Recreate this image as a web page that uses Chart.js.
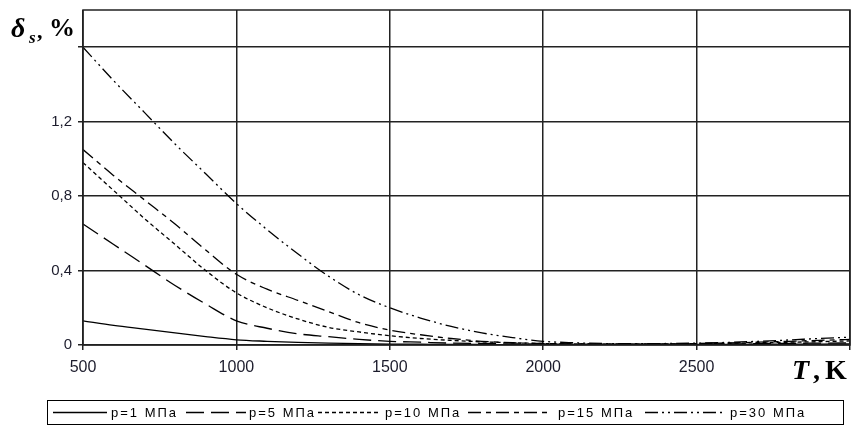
<!DOCTYPE html>
<html>
<head>
<meta charset="utf-8">
<script src="https://cdn.jsdelivr.net/npm/chart.js@4/dist/chart.umd.min.js"></script>
<style>
  html, body { margin: 0; padding: 0; background: #fff; }
  #wrap { width: 852px; height: 430px; position: relative; }
</style>
</head>
<body>
<div id="wrap"><canvas id="c" width="852" height="430"></canvas></div>
<script>
// Temperature, K
const temperatures = [500, 600, 700, 800, 900, 1000, 1100, 1200, 1300, 1400, 1500,
  1600, 1700, 1800, 1900, 2000, 2100, 2200, 2300, 2400, 2500, 2600, 2700, 2800, 2900, 3000];

// delta_s, % for each pressure
const p1 = [0.13, 0.105, 0.085, 0.065, 0.045, 0.028, 0.02, 0.014, 0.01, 0.007, 0.005,
  0.004, 0.003, 0.003, 0.002, 0.002, 0.002, 0.002, 0.002, 0.002, 0.003, 0.003, 0.004, 0.005, 0.005, 0.006];
const p5 = [0.65, 0.54, 0.43, 0.32, 0.22, 0.13, 0.09, 0.06, 0.045, 0.03, 0.02,
  0.015, 0.01, 0.008, 0.006, 0.005, 0.004, 0.004, 0.004, 0.004, 0.005, 0.006, 0.007, 0.009, 0.01, 0.012];
const p10 = [0.98, 0.83, 0.68, 0.54, 0.40, 0.28, 0.20, 0.14, 0.095, 0.07, 0.05,
  0.035, 0.025, 0.017, 0.012, 0.008, 0.006, 0.005, 0.005, 0.006, 0.007, 0.009, 0.012, 0.015, 0.018, 0.022];
const p15 = [1.05, 0.91, 0.78, 0.65, 0.51, 0.38, 0.30, 0.24, 0.18, 0.12, 0.08,
  0.055, 0.035, 0.02, 0.012, 0.008, 0.006, 0.005, 0.005, 0.006, 0.008, 0.011, 0.015, 0.02, 0.025, 0.03];
const p30 = [1.60, 1.42, 1.25, 1.08, 0.92, 0.76, 0.62, 0.49, 0.37, 0.27, 0.20,
  0.145, 0.10, 0.065, 0.04, 0.02, 0.012, 0.008, 0.007, 0.008, 0.01, 0.014, 0.02, 0.027, 0.035, 0.042];

const seriesLabels = ['p=1 МПа', 'p=5 МПа', 'p=10 МПа', 'p=15 МПа', 'p=30 МПа'];
const xTickValues = [500, 1000, 1500, 2000, 2500, 3000];
const yTickValues = [0, 0.4, 0.8, 1.2, 1.6];

const dashes = [[], [18, 7], [4, 3], [13, 5, 5, 5], [13, 4, 2, 4, 2, 4]];
const allSeries = [p1, p5, p10, p15, p30];

const datasets = allSeries.map((vals, i) => ({
  label: seriesLabels[i],
  data: temperatures.map((t, k) => ({ x: t, y: vals[k] })),
  borderColor: '#000',
  borderWidth: 1.3,
  borderDash: dashes[i],
  pointRadius: 0,
  fill: false,
  cubicInterpolationMode: 'monotone'
}));

// frame, axis titles and the boxed legend below the plot
const decorations = {
  id: 'decorations',
  afterDraw(chart) {
    const ctx = chart.ctx;
    const a = chart.chartArea;
    ctx.save();
    ctx.strokeStyle = '#222';
    ctx.lineWidth = 1.5;
    ctx.strokeRect(a.left, a.top, a.right - a.left, a.bottom - a.top);

    // y title: δs,%
    ctx.fillStyle = '#000';
    ctx.textBaseline = 'alphabetic';
    ctx.textAlign = 'left';
    ctx.font = 'bold italic 28px "Liberation Serif"';
    ctx.fillText('δ', 11, 37);
    ctx.font = 'bold italic 17px "Liberation Serif"';
    ctx.fillText('s', 29, 43);
    ctx.font = 'bold 22px "Liberation Serif"';
    ctx.fillText(',', 37, 38);
    ctx.font = 'bold 26px "Liberation Serif"';
    ctx.fillText('%', 49, 36);

    // x title: T,K
    ctx.font = 'bold italic 28px "Liberation Serif"';
    ctx.fillText('T', 792, 379);
    ctx.font = 'bold 28px "Liberation Serif"';
    ctx.fillText(',', 813, 379);
    ctx.fillText('K', 825, 379);

    // legend
    ctx.lineWidth = 1;
    ctx.strokeStyle = '#000';
    ctx.strokeRect(47.5, 400.5, 796, 24);
    const items = [
      { x1: 53, x2: 107, tx: 111 },
      { x1: 186, x2: 246, tx: 249 },
      { x1: 318, x2: 381, tx: 385 },
      { x1: 468, x2: 550, tx: 558 },
      { x1: 645, x2: 724, tx: 730 }
    ];
    const ly = 412.5;
    ctx.font = '13px "Liberation Sans"';
    ctx.letterSpacing = '2px';
    ctx.textBaseline = 'middle';
    items.forEach((it, i) => {
      ctx.beginPath();
      ctx.setLineDash(dashes[i]);
      ctx.lineWidth = 1.3;
      ctx.moveTo(it.x1, ly);
      ctx.lineTo(it.x2, ly);
      ctx.stroke();
      ctx.setLineDash([]);
      ctx.fillText(seriesLabels[i], it.tx, ly + 1);
    });
    ctx.restore();
  }
};

new Chart(document.getElementById('c'), {
  type: 'line',
  data: { datasets },
  options: {
    responsive: false,
    animation: false,
    layout: { padding: { top: 10, right: 2, left: 0, bottom: 0 } },
    plugins: { legend: { display: false }, tooltip: { enabled: false } },
    scales: {
      x: {
        type: 'linear',
        min: 500,
        max: 3000,
        afterBuildTicks(scale) { scale.ticks = xTickValues.map(v => ({ value: v })); },
        afterFit(scale) { scale.height = 85; scale.paddingLeft = 0; scale.paddingRight = 0; },
        grid: { color: '#222', lineWidth: 1.5, tickLength: 5, drawTicks: true },
        border: { display: false },
        ticks: {
          color: '#1c1c2c',
          font: { family: '"Liberation Sans"', size: 16 },
          padding: 8,
          maxRotation: 0,
          autoSkip: false,
          callback: v => (v === 3000 ? '' : String(v))
        }
      },
      y: {
        type: 'linear',
        min: 0,
        max: 1.8,
        afterBuildTicks(scale) { scale.ticks = yTickValues.map(v => ({ value: v })); },
        afterFit(scale) { scale.width = 83; scale.paddingTop = 0; scale.paddingBottom = 0; },
        grid: { color: '#222', lineWidth: 1.5, tickLength: 5, drawTicks: true },
        border: { display: false },
        ticks: {
          color: '#1c1c2c',
          font: { family: '"Liberation Sans"', size: 15 },
          padding: 6,
          autoSkip: false,
          callback: v => {
            if (Math.abs(v) < 1e-9) return '0';
            if (Math.abs(v - 1.6) < 1e-9) return '';
            return v.toFixed(1).replace('.', ',');
          }
        }
      }
    }
  },
  plugins: [decorations]
});
</script>
</body>
</html>
